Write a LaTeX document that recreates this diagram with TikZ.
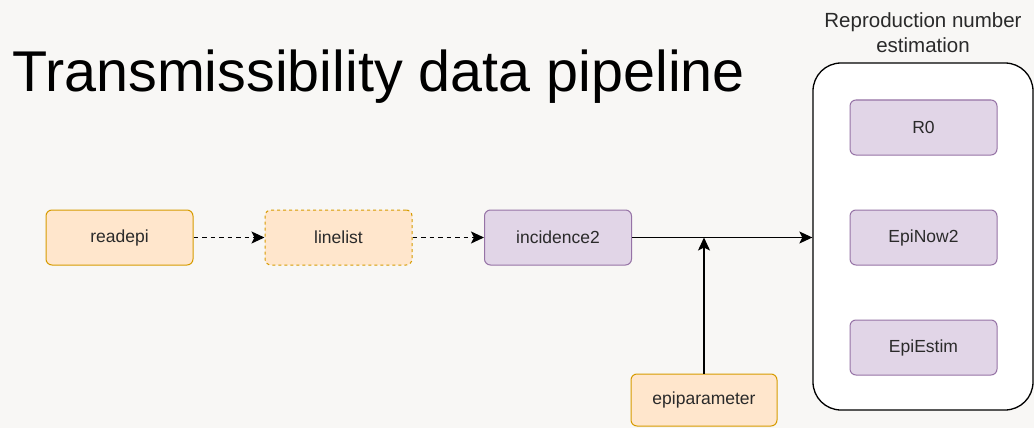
\documentclass[tikz,border=0pt]{standalone}
\usepackage{fontspec}
\setmainfont{Liberation Sans}
\usetikzlibrary{arrows.meta}
\definecolor{bg}{HTML}{F8F7F5}
\definecolor{orfill}{HTML}{FFE6CC}
\definecolor{ordraw}{HTML}{D79B00}
\definecolor{pufill}{HTML}{E1D5E7}
\definecolor{pudraw}{HTML}{9673A6}
\definecolor{txt}{HTML}{2A2A2A}
\tikzset{
  box/.style={rectangle, rounded corners=6pt, minimum width=147pt, minimum height=55pt, line width=1pt, font=\fontsize{17.5}{20}\selectfont, text=txt},
  orbox/.style={box, fill=orfill, draw=ordraw},
  pubox/.style={box, fill=pufill, draw=pudraw},
  arr/.style={-{Stealth[length=13pt,width=12pt,inset=3pt]}, line width=1.3pt, black},
  darr/.style={arr, dash pattern=on 4.5pt off 4pt},
}
\begin{document}
\begin{tikzpicture}[x=1pt,y=-1pt]
\useasboundingbox[fill=bg] (0,0) rectangle (1034,428);
\node[anchor=base west, font=\fontsize{57.5}{66}\selectfont, inner sep=0pt] (title) at (12,92) {Transmissibility data pipeline};
\node[rectangle, draw=black, fill=white, rounded corners=28pt, line width=1.3pt, minimum width=220pt, minimum height=347pt] (cont) at (923,236.5) {};
\node[anchor=base, align=center, font=\fontsize{20.5}{25}\selectfont, text=txt, inner sep=0pt] (lab) at (923,53) {Reproduction number\\estimation};
\node[orbox] (readepi) at (119.5,237.5) {readepi};
\node[orbox, dash pattern=on 3pt off 3pt] (linelist) at (338.5,237.5) {linelist};
\node[pubox] (inc) at (558,237.5) {incidence2};
\node[orbox, minimum width=146pt, minimum height=52pt] (epipar) at (704,400) {epiparameter};
\node[pubox] (r0) at (923.5,127.5) {R0};
\node[pubox] (epinow) at (923.5,237.5) {EpiNow2};
\node[pubox] (epiestim) at (923.5,347.5) {EpiEstim};
\coordinate (junc) at (epipar.north |- inc.east);
\draw[darr] (readepi) -- (linelist);
\draw[darr] (linelist) -- (inc);
\draw[arr] (inc) -- (cont.west |- inc.east);
\draw[arr] (epipar) -- (junc);
\end{tikzpicture}
\end{document}
